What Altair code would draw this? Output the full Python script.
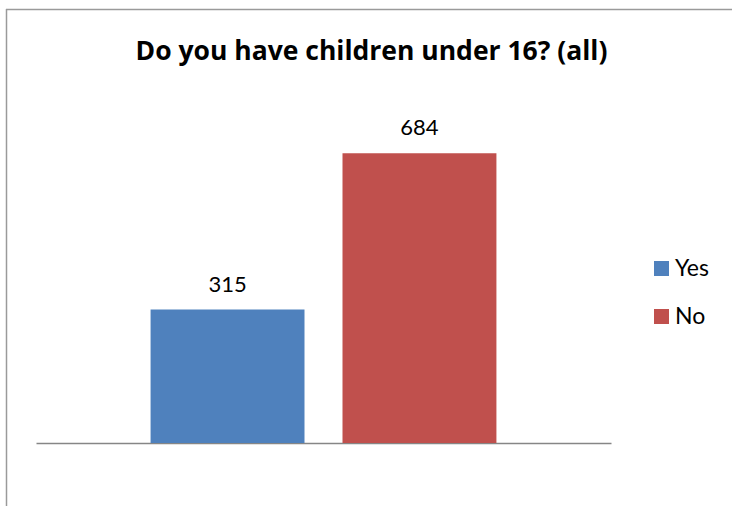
import altair as alt
import pandas as pd

categories = ["Yes", "No"]
counts = [315, 684]
colors = ["#4F81BD", "#C0504D"]
title_text = ["Do you have children under 16? (all)"]

df = pd.DataFrame({"answer": categories, "count": counts})

FONT = "Lato"
TITLE_FONT = "Open Sans"

x_enc = alt.X(
    "answer:N",
    sort=categories,
    scale=alt.Scale(paddingInner=0.198, paddingOuter=0.597),
    axis=alt.Axis(labels=False, ticks=False, title=None, domainColor="#868686",
                  domainWidth=1.5, grid=False),
)
y_enc = alt.Y("count:Q", scale=alt.Scale(domain=[0, 800]), axis=None)

base = alt.Chart(df)

bars = base.mark_bar().encode(
    x=x_enc,
    y=y_enc,
    color=alt.Color(
        "answer:N",
        sort=categories,
        scale=alt.Scale(domain=categories, range=colors),
        legend=alt.Legend(
            title=None, orient="none", legendX=614, legendY=153,
            symbolType="square", symbolSize=225, symbolStrokeWidth=0,
            symbolOpacity=1,
            labelFont=FONT, labelFontSize=23, labelColor="#000000",
            labelOffset=2, rowPadding=24, padding=0,
        ),
    ),
)

labels = base.mark_text(font=FONT, fontSize=22, baseline="alphabetic", dy=-18,
                        color="#000000").encode(
    x=x_enc, y=y_enc, text=alt.Text("count:Q")
)

title_layer = alt.Chart(pd.DataFrame({"t": title_text})).mark_text(
    font=TITLE_FONT, fontSize=26.5, fontWeight="bold", color="#000000",
    align="center", baseline="alphabetic",
).encode(x=alt.value(335.5), y=alt.value(-44), text="t:N")

frame = alt.Chart(pd.DataFrame({"k": [0]}))
top_rule = frame.mark_rule(color="#9a9a9a", strokeWidth=1.5).encode(
    x=alt.value(-30), x2=alt.value(700), y=alt.value(-94.5)
)
left_rule = frame.mark_rule(color="#9a9a9a", strokeWidth=1.5).encode(
    x=alt.value(-29.5), y=alt.value(-95), y2=alt.value(420)
)

chart = alt.layer(top_rule, left_rule, title_layer, bars, labels).properties(
    width=575,
    height=339,
    autosize=alt.AutoSizeParams(type="none"),
    padding={"left": 36, "top": 104, "right": 121, "bottom": 63},
).configure(background="white").configure_view(stroke=None)

chart.save("out.html", embed_options={"renderer": "svg", "actions": False})
